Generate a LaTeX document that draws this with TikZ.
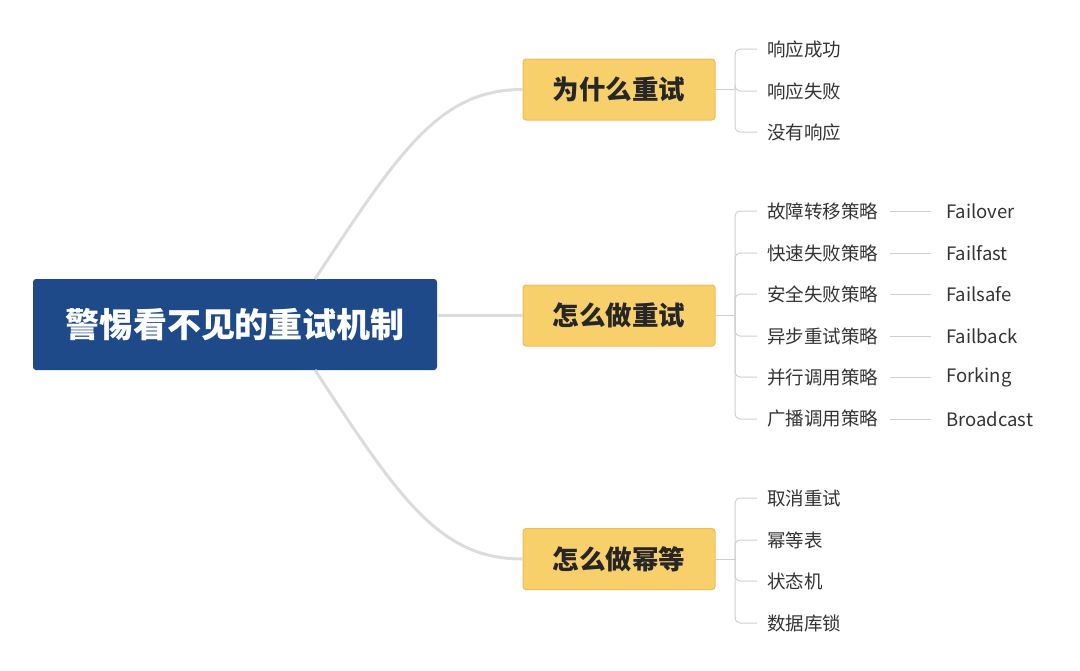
\documentclass[tikz,border=0pt]{standalone}
\usepackage{fontspec}
\newfontfamily\cjk{Noto Sans CJK SC}
\usetikzlibrary{positioning}
\definecolor{rootblue}{HTML}{1F4A8A}
\definecolor{topicyellow}{HTML}{F7CF6B}
\definecolor{topicedge}{HTML}{EDBE52}
\definecolor{branchgray}{HTML}{DCDCDC}
\definecolor{leafgray}{HTML}{CFCFCF}
\definecolor{leaftext}{HTML}{333333}
\begin{document}
\begin{tikzpicture}[x=1pt, y=-1pt,
   root/.style={rectangle, rounded corners=3pt, fill=rootblue, text=white,
     minimum width=404, minimum height=91, font=\cjk\bfseries\fontsize{34}{34}\selectfont},
   topic/.style={rectangle, rounded corners=3pt, fill=topicyellow, draw=topicedge, line width=1pt,
     minimum width=192, minimum height=61, text=black!85, font=\cjk\bfseries\fontsize{26.5}{26.5}\selectfont},
   leaf/.style={anchor=west, inner sep=0pt, text=leaftext, font=\cjk\fontsize{18.5}{18.5}\selectfont},
   branch/.style={draw=branchgray, line width=3pt},
   twig/.style={draw=leafgray, line width=1pt, rounded corners=5pt}]
   \useasboundingbox (0,0) rectangle (1080,670);

   \node (root) at (235,324.5) [root] {警惕看不见的重试机制};
   \node (why) at (619,89.5) [topic] {为什么重试};
   \node (how) at (619,315.5) [topic] {怎么做重试};
   \node (idem) at (619,559) [topic] {怎么做幂等};

   \draw [branch] (315,279) .. controls (400,150) and (440,89.5) .. (why.west);
   \draw [branch] (root.east |- how.west) -- (how.west);
   \draw [branch] (315,370) .. controls (400,500) and (440,559) .. (idem.west);

   % leaves of the first topic
   \node (w1) at (767,49) [leaf] {响应成功};
   \node (w2) at (767,91) [leaf] {响应失败};
   \node (w3) at (767,132) [leaf] {没有响应};
   \coordinate (wj) at (735,89.5);
   \draw [twig] (why.east) -- (wj);
   \foreach \n in {w1,w2,w3}
     \draw [twig] (wj) |- ([xshift=-10pt]\n.west);

   % leaves of the second topic
   \node (h1) at (767,211) [leaf] {故障转移策略};
   \node (h2) at (767,253) [leaf] {快速失败策略};
   \node (h3) at (767,294) [leaf] {安全失败策略};
   \node (h4) at (767,336) [leaf] {异步重试策略};
   \node (h5) at (767,377) [leaf] {并行调用策略};
   \node (h6) at (767,419) [leaf] {广播调用策略};
   \node (e1) at (946,211) [leaf] {Failover};
   \node (e2) at (946,253) [leaf] {Failfast};
   \node (e3) at (946,294) [leaf] {Failsafe};
   \node (e4) at (946,336) [leaf] {Failback};
   \node (e5) at (946,377) [leaf] {Forking};
   \node (e6) at (946,419) [leaf] {Broadcast};
   \coordinate (hj) at (735,315.5);
   \draw [twig] (how.east) -- (hj);
   \foreach \i in {1,...,6} {
     \draw [twig] (hj) |- ([xshift=-10pt]h\i.west);
     \draw [twig] ([xshift=12pt]h\i.east) -- ([xshift=-15pt]e\i.west);
   }

   % leaves of the third topic
   \node (d1) at (767,498) [leaf] {取消重试};
   \node (d2) at (767,540) [leaf] {幂等表};
   \node (d3) at (767,581) [leaf] {状态机};
   \node (d4) at (767,623) [leaf] {数据库锁};
   \coordinate (dj) at (735,559);
   \draw [twig] (idem.east) -- (dj);
   \foreach \n in {d1,d2,d3,d4}
     \draw [twig] (dj) |- ([xshift=-10pt]\n.west);
\end{tikzpicture}
\end{document}
